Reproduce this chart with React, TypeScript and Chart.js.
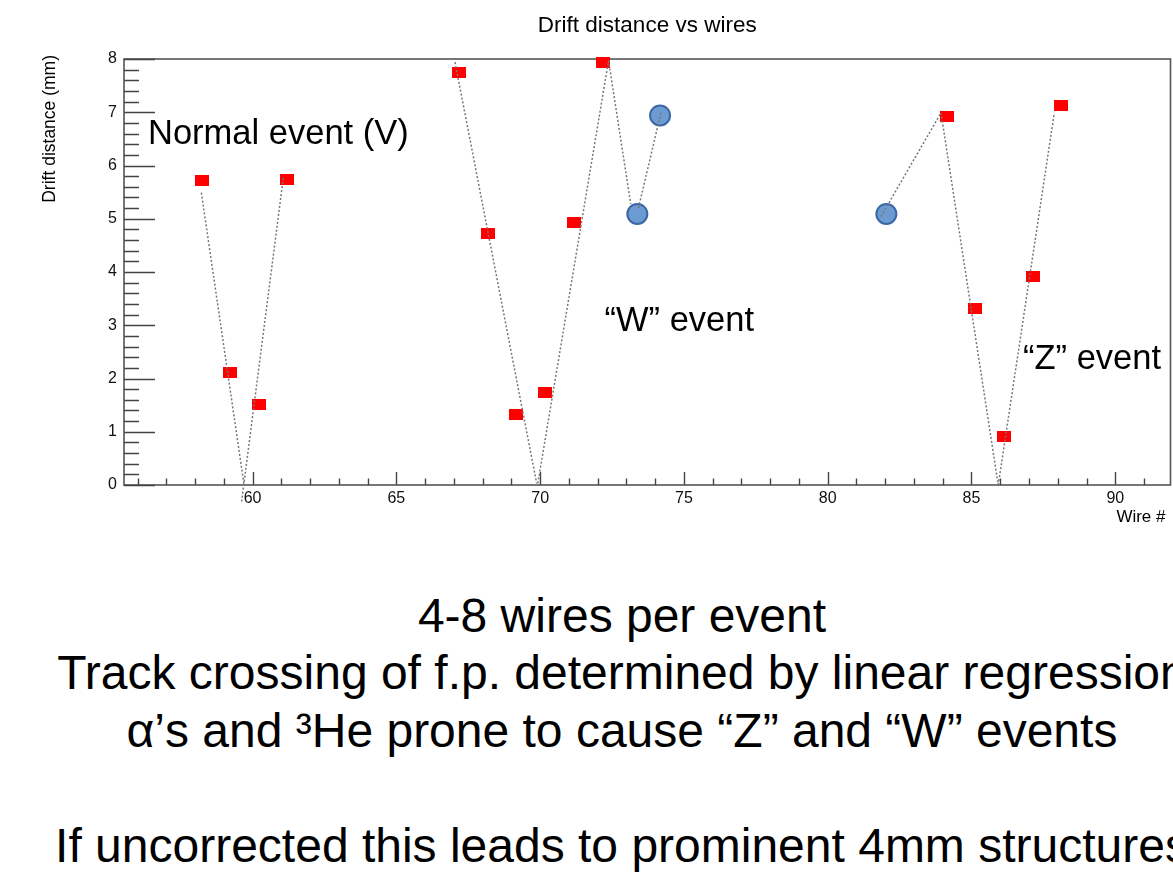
import React, { useEffect, useRef } from 'react';
import { Chart, registerables } from 'chart.js';

Chart.register(...registerables);

// ---------- data ----------
const redWire = [58.23, 59.23, 60.23, 61.21, 67.19, 68.2, 69.16, 70.17, 71.19, 72.18, 84.14, 85.13, 86.13, 87.13, 88.12];
const redDrift = [5.72, 2.12, 1.52, 5.73, 7.74, 4.73, 1.33, 1.73, 4.93, 7.93, 6.92, 3.32, 0.91, 3.92, 7.13];

const blueWire = [73.38, 74.17, 82.04];
const blueDrift = [5.09, 6.94, 5.09];

// fitted track segments (start -> end)
const fitStartWire = [58.22, 59.62, 67.04, 69.92, 72.38, 73.42, 81.85, 83.94, 85.93];
const fitStartDrift = [5.49, -0.31, 7.94, 0.03, 7.97, 5.2, 5.04, 6.99, 0.0];
const fitEndWire = [59.7, 61.07, 69.88, 72.38, 73.15, 74.2, 83.94, 85.93, 87.88];
const fitEndDrift = [0.02, 5.77, 0.03, 7.97, 5.28, 6.99, 6.99, 0.0, 6.99];

const xMajorTicks = [60, 65, 70, 75, 80, 85, 90];
const yMajorTicks = [0, 1, 2, 3, 4, 5, 6, 7, 8];
const xRange = [55.53, 91.92];
const yRange = [0, 8];

const chartTitle = 'Drift distance vs wires';
const yAxisTitle = 'Drift distance (mm)';
const xAxisTitle = 'Wire #';

const annotationTexts = ['Normal event (V)', '\u201CW\u201D event', '\u201CZ\u201D event'];
const annotationPos = [
  [148, 144],
  [604.5, 331],
  [1023, 369],
];

const bottomLines = [
  '4-8 wires per event',
  'Track crossing of f.p. determined by linear regression',
  '\u03B1\u2019s and \u00B3He prone to cause \u201CZ\u201D and \u201CW\u201D events',
  '\u00A0',
  'If uncorrected this leads to prominent 4mm structures',
];

// ---------- layout ----------
const PAGE_W = 1173;
const PAGE_H = 882;
const CANVAS_H = 540;
const AREA_LEFT = 124;
const AREA_TOP = 59;
const AREA_RIGHT = 1170.5;
const AREA_BOTTOM = 485;
const FONT = '"Liberation Sans", Arial, Helvetica, sans-serif';

const rootPlugin = {
  id: 'rootFrame',
  beforeDatasetsDraw(chart: any) {
    const { ctx, chartArea: a, scales } = chart;
    const x = scales.x;
    const y = scales.y;
    ctx.save();
    ctx.strokeStyle = '#555';
    ctx.lineWidth = 1.6;
    ctx.strokeRect(a.left, a.top, a.right - a.left, a.bottom - a.top);

    ctx.strokeStyle = '#444';
    ctx.lineWidth = 1.4;
    ctx.beginPath();
    for (let k = 0; k <= 40; k++) {
      const v = k * 0.2;
      const py = Math.round(y.getPixelForValue(v)) + 0.5;
      const len = k % 5 === 0 ? 31 : 15;
      ctx.moveTo(a.left, py);
      ctx.lineTo(a.left + len, py);
    }
    for (let v = Math.ceil(xRange[0]); v <= Math.floor(xRange[1]); v++) {
      const px = Math.round(x.getPixelForValue(v)) + 0.5;
      const len = v % 5 === 0 ? 13 : 6.5;
      ctx.moveTo(px, a.bottom);
      ctx.lineTo(px, a.bottom - len);
    }
    ctx.stroke();
    ctx.restore();
  },
  afterDraw(chart: any) {
    const { ctx, chartArea: a } = chart;
    ctx.save();
    ctx.fillStyle = '#000';
    ctx.textBaseline = 'alphabetic';

    ctx.font = `22.5px ${FONT}`;
    ctx.textAlign = 'center';
    ctx.fillText(chartTitle, (a.left + a.right) / 2, 32);

    ctx.font = `17px ${FONT}`;
    ctx.textAlign = 'right';
    ctx.fillText(xAxisTitle, 1165.5, 521.5);

    ctx.save();
    ctx.font = `17.5px ${FONT}`;
    ctx.translate(55, 55);
    ctx.rotate(-Math.PI / 2);
    ctx.textAlign = 'right';
    ctx.fillText(yAxisTitle, 0, 0);
    ctx.restore();

    ctx.font = `34.5px ${FONT}`;
    ctx.textAlign = 'left';
    annotationTexts.forEach((t, i) => {
      ctx.fillText(t, annotationPos[i][0], annotationPos[i][1]);
    });
    ctx.restore();
  },
};

export default function App() {
  const ref = useRef<HTMLCanvasElement>(null);

  useEffect(() => {
    const canvas = ref.current;
    if (!canvas) return;

    const sq = document.createElement('canvas');
    sq.width = 14;
    sq.height = 11;
    const g = sq.getContext('2d')!;
    g.fillStyle = '#ff0000';
    g.fillRect(0, 0, 14, 11);

    const datasets: any[] = [];
    for (let i = 0; i < fitStartWire.length; i++) {
      datasets.push({
        type: 'line',
        data: [
          { x: fitStartWire[i], y: fitStartDrift[i] },
          { x: fitEndWire[i], y: fitEndDrift[i] },
        ],
        borderColor: '#777777',
        borderWidth: 1.5,
        borderDash: [2, 2],
        pointRadius: 0,
        showLine: true,
        fill: false,
        order: 0,
        clip: false,
      });
    }
    datasets.push({
      type: 'scatter',
      data: redWire.map((w, i) => ({ x: w, y: redDrift[i] })),
      pointStyle: sq,
      pointRadius: 7,
      backgroundColor: '#ff0000',
      borderColor: '#ff0000',
      showLine: false,
      order: 1,
      clip: false,
    });
    datasets.push({
      type: 'scatter',
      data: blueWire.map((w, i) => ({ x: w, y: blueDrift[i] })),
      pointStyle: 'circle',
      pointRadius: 10,
      backgroundColor: '#6c9bd2',
      borderColor: '#3b67a6',
      borderWidth: 2,
      showLine: false,
      order: 1,
      clip: false,
    });

    const chart = new Chart(canvas, {
      type: 'scatter',
      data: { datasets },
      options: {
        animation: false,
        responsive: false,
        devicePixelRatio: 1,
        layout: {
          autoPadding: false,
          padding: { top: AREA_TOP, right: PAGE_W - AREA_RIGHT, left: 0, bottom: 0 },
        },
        plugins: {
          legend: { display: false },
          tooltip: { enabled: false },
          title: { display: false },
        },
        scales: {
          x: {
            type: 'linear',
            min: xRange[0],
            max: xRange[1],
            grid: { display: false, drawTicks: false },
            border: { display: false },
            ticks: { font: { family: FONT, size: 16 }, color: '#111', padding: 4, maxRotation: 0, autoSkip: false },
            afterBuildTicks: (s: any) => {
              s.ticks = xMajorTicks.map((v) => ({ value: v }));
            },
            afterFit: (s: any) => {
              s.height = CANVAS_H - AREA_BOTTOM;
            },
          },
          y: {
            type: 'linear',
            min: yRange[0],
            max: yRange[1],
            grid: { display: false, drawTicks: false },
            border: { display: false },
            ticks: { font: { family: FONT, size: 16 }, color: '#111', padding: 7, autoSkip: false },
            afterBuildTicks: (s: any) => {
              s.ticks = yMajorTicks.map((v) => ({ value: v }));
            },
            afterFit: (s: any) => {
              s.width = AREA_LEFT;
            },
          },
        },
      } as any,
      plugins: [rootPlugin],
    });
    return () => chart.destroy();
  }, []);

  return (
    <div
      style={{
        position: 'fixed',
        left: 0,
        top: 0,
        width: PAGE_W,
        height: PAGE_H,
        overflow: 'hidden',
        background: '#fff',
      }}
    >
      <canvas ref={ref} width={PAGE_W} height={CANVAS_H} style={{ position: 'absolute', left: 0, top: 0 }} />
      <div
        style={{
          position: 'absolute',
          top: 586.6,
          left: 0,
          width: 1244,
          textAlign: 'center',
          fontFamily: FONT,
          fontSize: 48,
          lineHeight: '57.5px',
          color: '#000',
          whiteSpace: 'nowrap',
        }}
      >
        {bottomLines.map((t, i) => (
          <div key={i}>{t}</div>
        ))}
      </div>
    </div>
  );
}
